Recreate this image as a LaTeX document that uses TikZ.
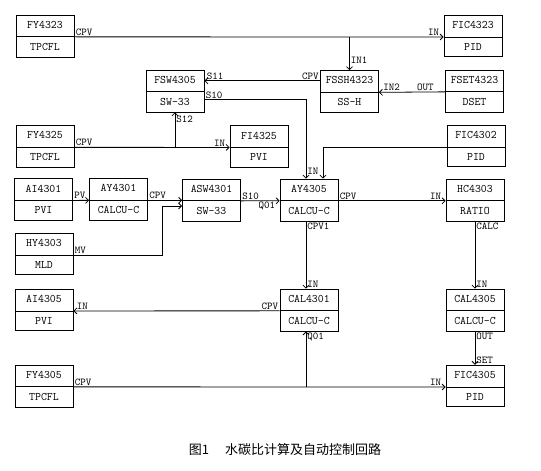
\documentclass[tikz,border=0pt]{standalone}
\usepackage{fontspec}
\newfontfamily\cjkfont{Noto Sans CJK SC}
\usetikzlibrary{shapes.multipart, calc, arrows.meta, positioning}

\tikzset{
  blk/.style={draw, rectangle split, rectangle split parts=2, minimum width=58pt,
    inner xsep=2pt, inner ysep=6pt, text height=7pt, text depth=2pt,
    font=\fontsize{11.5}{12}\ttfamily, align=center},
  lbl/.style={font=\fontsize{10.5}{11}\ttfamily, inner sep=1pt}
}

\begin{document}
\begin{tikzpicture}[x=1pt, y=-1pt, line width=0.8pt, >={Straight Barb[length=3pt,width=6pt]}]
\useasboundingbox (0,0) rectangle (541,471);
\node[blk] (fy4323) at (45,36) {FY4323\nodepart{two}TPCFL};
\node[blk] (fic4323) at (473,36) {FIC4323\nodepart{two}PID};
\node[blk] (fsw4305) at (175,91) {FSW4305\nodepart{two}SW-33};
\node[blk] (fssh4323) at (349.5,91.5) {FSSH4323\nodepart{two}SS-H};
\node[blk] (fset4323) at (474.5,91) {FSET4323\nodepart{two}DSET};
\node[blk] (fy4325) at (45,146.5) {FY4325\nodepart{two}TPCFL};
\node[blk] (fi4325) at (259,146.5) {FI4325\nodepart{two}PVI};
\node[blk] (fic4302) at (476,146) {FIC4302\nodepart{two}PID};
\node[blk] (ai4301) at (43.5,199.5) {AI4301\nodepart{two}PVI};
\node[blk] (ay4301) at (118.5,199.5) {AY4301\nodepart{two}CALCU-C};
\node[blk] (asw4301) at (211.5,200) {ASW4301\nodepart{two}SW-33};
\node[blk] (ay4305) at (309,200) {AY4305\nodepart{two}CALCU-C};
\node[blk] (hc4303) at (475,200) {HC4303\nodepart{two}RATIO};
\node[blk] (hy4303) at (44,254) {HY4303\nodepart{two}MLD};
\node[blk] (ai4305) at (44,310) {AI4305\nodepart{two}PVI};
\node[blk] (cal4301) at (309,310) {CAL4301\nodepart{two}CALCU-C};
\node[blk] (cal4305) at (475,310) {CAL4305\nodepart{two}CALCU-C};
\node[blk] (fy4305) at (44,386) {FY4305\nodepart{two}TPCFL};
\node[blk] (fic4305) at (475,386) {FIC4305\nodepart{two}PID};
\coordinate (fsshl) at ($(fssh4323.north west)!0.25!(fssh4323.south west)$);
\coordinate (fswr) at ($(fsw4305.north east)!0.7!(fsw4305.south east)$);
\coordinate (ayin) at ($(ay4305.north)+(-3,0)$);
\coordinate (ayout) at ($(ay4305.south)+(-3,0)$);
\draw[->] (fy4323.text split east) -- node[lbl, pos=0, above right] {CPV} node[lbl, pos=1, above left, xshift=-3pt] {IN} (fic4323.text split west);
\draw[->] (fssh4323.north |- fy4323.text split east) -- node[lbl, pos=0.7, right] {IN1} (fssh4323.north);
\draw[->] (fsshl) -- node[lbl, pos=0, above left] {CPV} node[lbl, pos=1, above right, xshift=1pt] {S11} (fsw4305.east |- fsshl);
\draw[->] (fset4323.text split west) -- node[lbl, pos=0, above left, xshift=-10pt] {OUT} node[lbl, pos=1, above right, xshift=3pt] {IN2} (fssh4323.text split east);
\draw[->] (fswr) -| node[lbl, pos=0, above right] {S10} node[lbl, pos=1, above right, yshift=3pt] {IN} (ayin);
\draw[->] (fic4302.text split west) -| ($(ay4305.north)+(14,0)$);
\draw[->] (fy4325.text split east) -- node[lbl, pos=0, above right] {CPV} node[lbl, pos=1, above left, xshift=-3pt] {IN} (fi4325.text split west);
\draw[->] (fsw4305.south |- fy4325.text split east) -- node[lbl, pos=0.8, right] {S12} (fsw4305.south);
\draw[->] (ai4301.text split east) -- node[lbl, pos=0, above right] {PV} (ay4301.text split west);
\draw[->] (ay4301.text split east) -- node[lbl, pos=0, above right] {CPV} (asw4301.west |- ay4301.text split east);
\draw[->] (hy4303.text split east) -| node[lbl, pos=0, above right] {MV} ($(asw4301.west)+(-20,6)$) -- ($(asw4301.west)+(0,6)$);
\draw[->] (asw4301.text split east) -- node[lbl, pos=0, above right] {S10} node[lbl, pos=1, below left, xshift=-3pt] {Q01} (ay4305.text split west);
\draw[->] (ay4305.text split east) -- node[lbl, pos=0, above right] {CPV} node[lbl, pos=1, above left, xshift=-3pt] {IN} (hc4303.text split west);
\draw[->] (ayout) -- node[lbl, pos=0, below right] {CPV1} node[lbl, pos=1, above right] {IN} (ayout |- cal4301.north);
\draw[->] (hc4303.south) -- node[lbl, pos=0, below right] {CALC} node[lbl, pos=1, above right] {IN} (cal4305.north);
\draw[->] (cal4301.text split west) -- node[lbl, pos=0, above left] {CPV} node[lbl, pos=1, above right, xshift=2pt] {IN} (ai4305.text split east);
\draw[->] (cal4305.south) -- node[lbl, pos=0, below right] {OUT} node[lbl, pos=1, above right] {SET} (fic4305.north);
\draw[->] (fy4305.text split east) -- node[lbl, pos=0, above right] {CPV} node[lbl, pos=1, above left, xshift=-3pt] {IN} (fic4305.text split west);
\draw[->] (ayout |- fy4305.text split east) -- node[lbl, pos=1, below right] {Q01} (ayout |- cal4301.south);
\node[font=\fontsize{13}{15}\cjkfont] (caption) at (285,450) {图1\hspace{16pt}水碳比计算及自动控制回路};
\end{tikzpicture}
\end{document}
